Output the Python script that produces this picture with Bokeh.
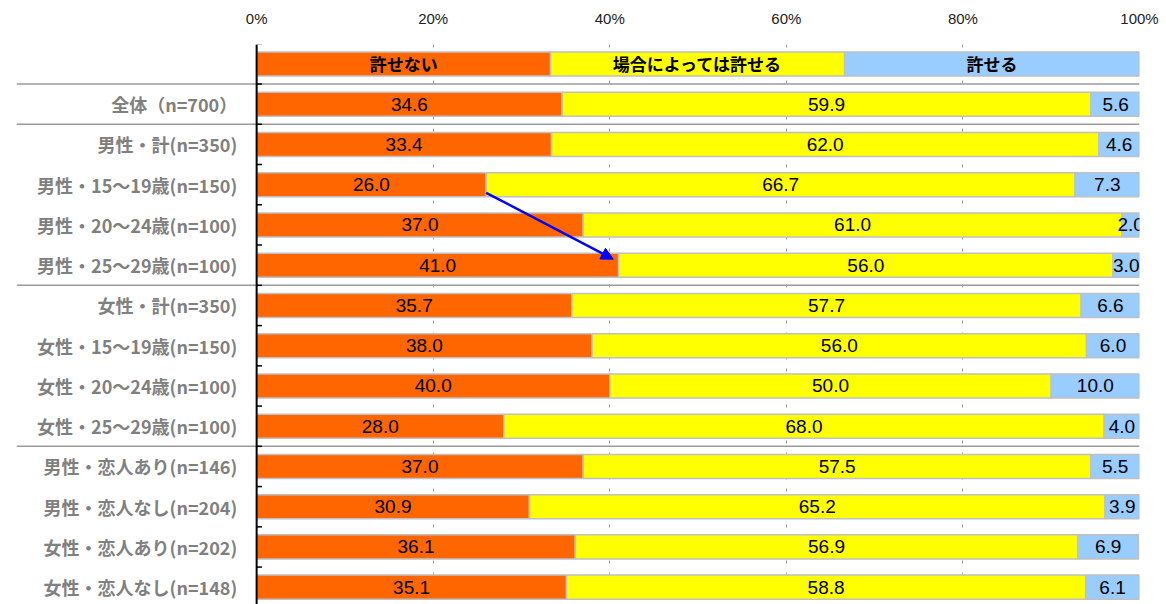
import numpy as np
from bokeh.plotting import figure
from bokeh.models import Range1d, FixedTicker, Span, Arrow, NormalHead, ColumnDataSource
from bokeh.core.properties import value
from bokeh.embed import file_html
from bokeh.resources import INLINE

# ---------------- data ----------------
categories = [
    "全体（n=700）",
    "男性・計(n=350)",
    "男性・15～19歳(n=150)",
    "男性・20～24歳(n=100)",
    "男性・25～29歳(n=100)",
    "女性・計(n=350)",
    "女性・15～19歳(n=150)",
    "女性・20～24歳(n=100)",
    "女性・25～29歳(n=100)",
    "男性・恋人あり(n=146)",
    "男性・恋人なし(n=204)",
    "女性・恋人あり(n=202)",
    "女性・恋人なし(n=148)",
]
not_forgivable = [34.6, 33.4, 26.0, 37.0, 41.0, 35.7, 38.0, 40.0, 28.0, 37.0, 30.9, 36.1, 35.1]
depends = [59.9, 62.0, 66.7, 61.0, 56.0, 57.7, 56.0, 50.0, 68.0, 57.5, 65.2, 56.9, 58.8]
forgivable = [5.6, 4.6, 7.3, 2.0, 3.0, 6.6, 6.0, 10.0, 4.0, 5.5, 3.9, 6.9, 6.1]

series_names = ["許せない", "場合によっては許せる", "許せる"]
legend_shares = [33.3, 33.3, 33.4]
colors = ["#FF6600", "#FFFF00", "#99CCFF"]
x_ticks = [0, 20, 40, 60, 80, 100]
group_breaks = [0, 1, 5, 9]  # separator after these row indices (0 = legend row)

# ---------------- figure ----------------
x_start = -27.2
p = figure(
    width=1166, height=604,
    x_range=Range1d(x_start, 100), y_range=Range1d(13.43, -0.484),
    output_backend="svg", toolbar_location=None,
    x_axis_location="above", y_axis_location=None,
    min_border_left=16, min_border_right=27, min_border_top=44, min_border_bottom=0,
    outline_line_color=None,
)
p.background_fill_color = "white"
p.border_fill_color = "white"

# grid
p.ygrid.visible = False
p.xgrid.ticker = FixedTicker(ticks=[t for t in x_ticks if t > 0])
p.xgrid.grid_line_color = "#a0a0a0"
p.xgrid.grid_line_dash = "3 9"
p.xgrid.grid_line_width = 1

# x axis (top)
ax = p.xaxis[0]
ax.ticker = FixedTicker(ticks=x_ticks)
ax.major_label_overrides = {t: f"{t}%" for t in x_ticks}
ax.axis_line_color = None
ax.major_tick_line_color = None
ax.minor_tick_line_color = None
ax.major_label_standoff = 12
ax.major_label_text_font = "Liberation Sans"
ax.major_label_text_font_size = "15px"
ax.major_label_text_color = "#222222"

# ---------------- bars ----------------
rows = np.arange(1, len(categories) + 1)
all_rows = np.concatenate([[0], rows])
vals = [np.array(not_forgivable), np.array(depends), np.array(forgivable)]
leg = np.array(legend_shares)

left = np.zeros(len(categories))
leg_left = 0.0
for i, (v, c) in enumerate(zip(vals, colors)):
    right = left + v
    lefts = np.concatenate([[leg_left], left])
    rights = np.concatenate([[leg_left + leg[i]], right])
    p.hbar(y=all_rows, left=lefts, right=rights, height=0.6,
           fill_color=c, line_color="#c0c0c0", line_width=1.5)
    # value labels
    src = ColumnDataSource(dict(x=(left + right) / 2, y=rows,
                                t=[f"{x:.1f}" for x in v]))
    p.text(x="x", y="y", text="t", source=src, text_align="center",
           text_baseline="middle", text_font=value("Liberation Sans"),
           text_font_size="19px", text_color="black")
    # legend row label
    p.text(x=[leg_left + leg[i] / 2], y=[0], text=[series_names[i]],
           text_align="center", text_baseline="middle",
           text_font=value("Noto Sans CJK JP"), text_font_style="bold",
           text_font_size="17px", text_color="black")
    left = right
    leg_left += leg[i]

# category labels
p.text(x=[-2.2] * len(categories), y=rows, text=categories,
       text_align="right", text_baseline="middle",
       text_font=value("Noto Sans CJK JP"), text_font_style="bold",
       text_font_size="18px", text_color="#808080")

# separators
for b in group_breaks:
    p.segment(x0=[x_start], y0=[b + 0.5], x1=[100], y1=[b + 0.5],
              line_color="#9a9a9a", line_width=1.5)

# left axis line + ticks
p.add_layout(Span(location=0, dimension="height", line_color="black", line_width=2))
tick_y = np.arange(-0.5, len(categories) + 1, 1.0)
p.segment(x0=np.zeros(len(tick_y)), y0=tick_y, x1=np.full(len(tick_y), 0.6), y1=tick_y,
          line_color="black", line_width=1.5)

# arrow (男性15-19 -> 男性25-29)
p.add_layout(Arrow(
    x_start=not_forgivable[2], y_start=3.2,
    x_end=not_forgivable[4] - 0.6, y_end=4.85,
    line_color="#0000FF", line_width=2.5,
    end=NormalHead(size=12, fill_color="#0000FF", line_color="#0000FF"),
))

open("out.html", "w").write(file_html(p, INLINE))
